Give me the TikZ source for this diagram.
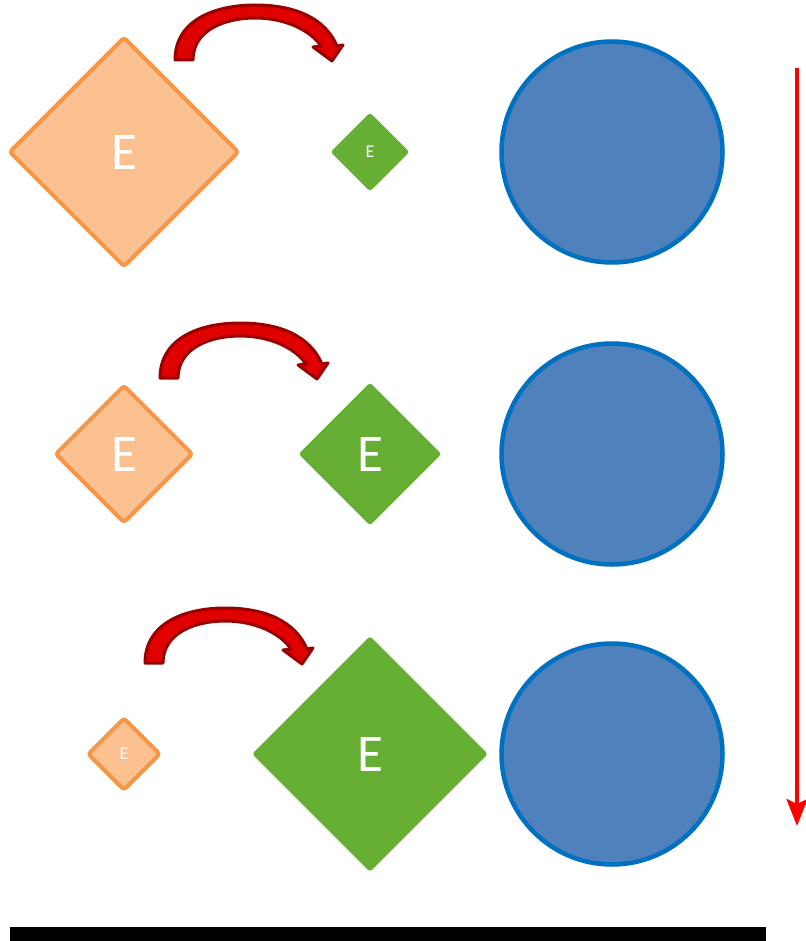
\documentclass[tikz,border=0pt]{standalone}
\usepackage{fontspec}
\setmainfont{Carlito}
\usetikzlibrary{shapes.geometric,arrows.meta}
\definecolor{orfill}{HTML}{FAC090}
\definecolor{orline}{HTML}{F79646}
\definecolor{grfill}{HTML}{67AE34}
\definecolor{blfill}{HTML}{4F81BD}
\definecolor{blline}{HTML}{0070C0}
\definecolor{darkred}{HTML}{990000}
\definecolor{brightred}{HTML}{E00000}
\begin{document}
\begin{tikzpicture}[x=1pt,y=-1pt,
 odia/.style={diamond, aspect=1, inner sep=0pt, fill=orfill, draw=orline, line width=4pt, rounded corners=3pt, text=white},
 gdia/.style={diamond, aspect=1, inner sep=0pt, fill=grfill, rounded corners=3pt, text=white},
 circ/.style={circle, inner sep=0pt, minimum size=221pt, fill=blfill, draw=blline, line width=4.5pt},
 bigE/.style={font=\fontsize{53}{53}\selectfont},
 smallE/.style={font=\fontsize{18}{18}\selectfont},
 curv/.style={fill=brightred, draw=darkred, line width=3pt, line join=round},
 curvarrow/.pic={
   \filldraw[curv] (0,0) .. controls (0,-40) and (40,-55) .. (80,-55)
     .. controls (120,-55) and (150,-42) .. (162,-14)
     -- (168,-15) -- (157,1) -- (138,-13) -- (146,-14)
     .. controls (135,-30) and (110,-42) .. (80,-42)
     .. controls (50,-42) and (18,-30) .. (18,0) -- cycle;
 }]
\useasboundingbox (0,0) rectangle (805,941);
% row 1
\node[odia, minimum size=230pt, bigE] (o1) at (124,152) {E};
\node[gdia, minimum size=79pt, smallE] (g1) at (370,152) {E};
\node[circ] (c1) at (612,152) {};
% row 2
\node[odia, minimum size=138pt, bigE] (o2) at (124,454) {E};
\node[gdia, minimum size=143pt, bigE] (g2) at (370,454) {E};
\node[circ] (c2) at (612,454) {};
% row 3
\node[odia, minimum size=73pt, smallE] (o3) at (124,754) {E};
\node[gdia, minimum size=236pt, bigE] (g3) at (370,754) {E};
\node[circ] (c3) at (612,754) {};
% curved arrows
\pic (a1) at (175,60) {curvarrow};
\pic (a2) at (160,378) {curvarrow};
\pic (a3) at (145,663) {curvarrow};
% right arrow
\coordinate (rs) at (797,68);
\coordinate (re) at (797,826);
\draw[red, line width=4pt, -{Stealth[width=21pt,length=27pt,inset=5pt]}] (rs) -- (re);
% bottom bar
\fill[black] (10,927) rectangle (766,941);
\end{tikzpicture}
\end{document}
